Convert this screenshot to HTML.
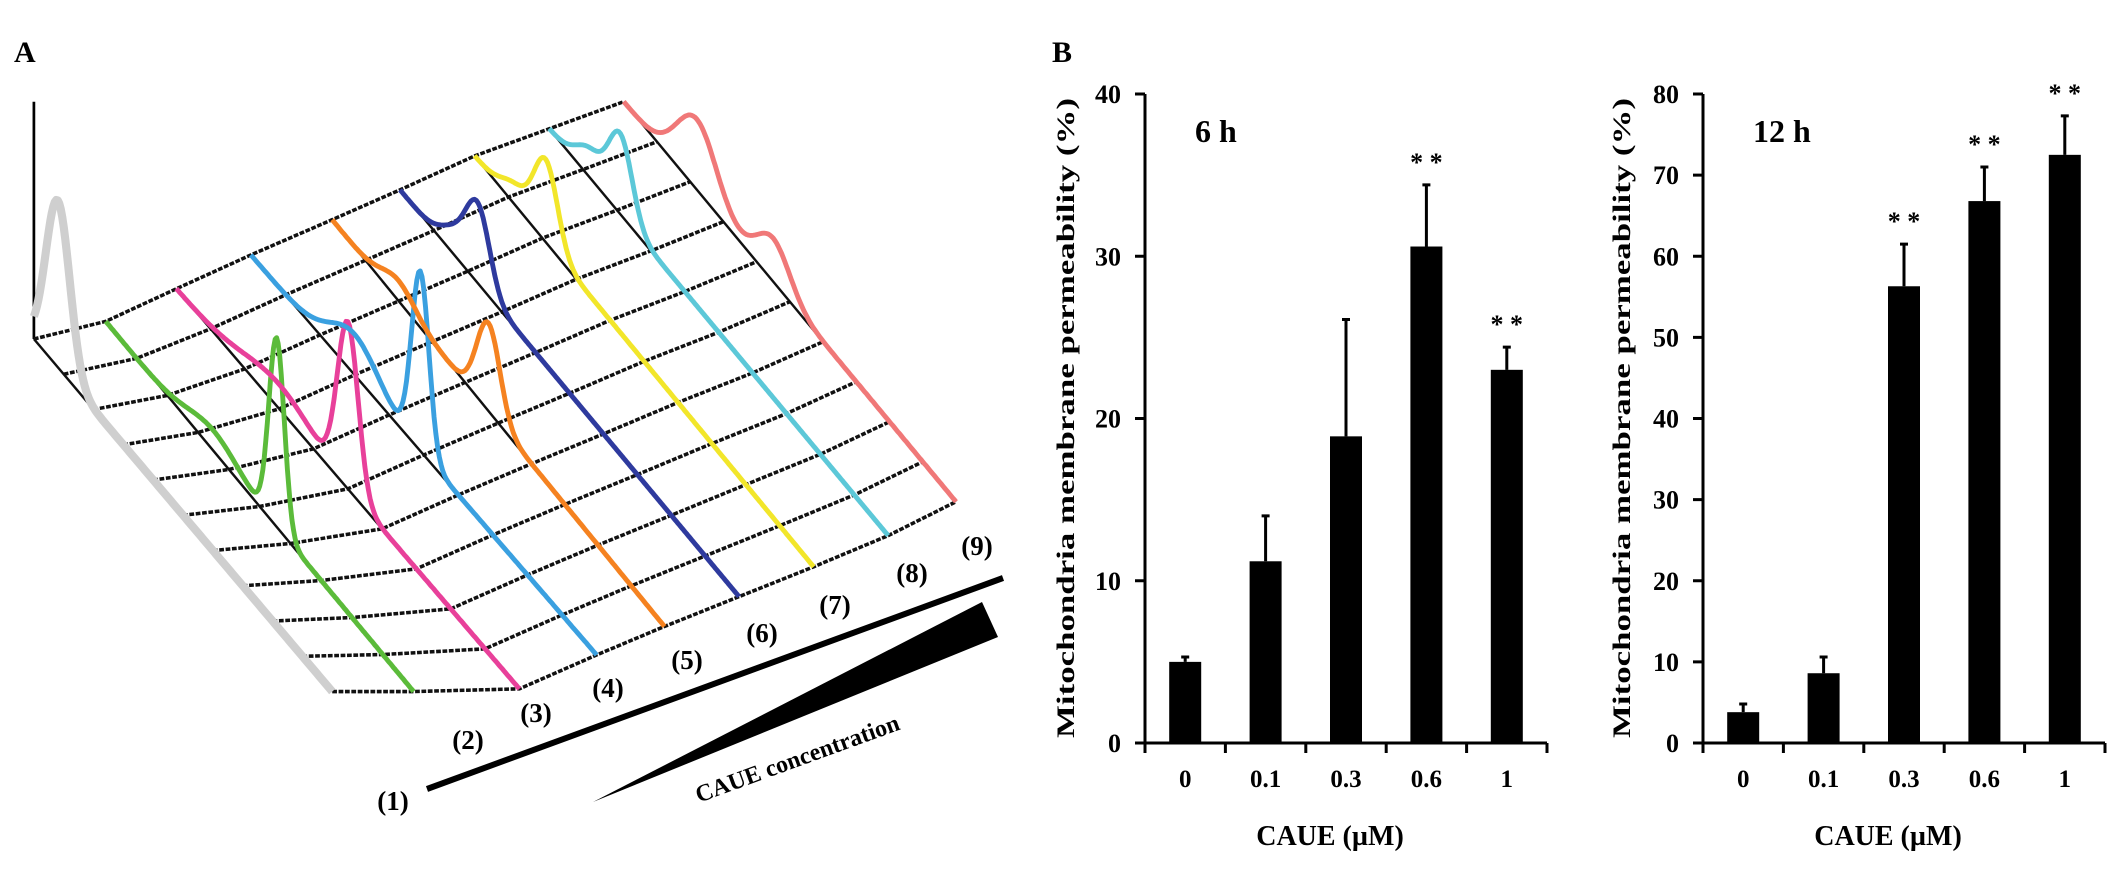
<!DOCTYPE html>
<html><head><meta charset="utf-8"><style>
html,body{margin:0;padding:0;background:#fff;}
svg{display:block;font-family:"Liberation Serif",serif;font-weight:bold;}
</style></head><body>
<svg id="fig" width="2126" height="885" viewBox="0 0 2126 885" xmlns="http://www.w3.org/2000/svg">
<text x="14" y="62" font-size="30">A</text>
<text x="1052" y="62" font-size="30">B</text>
<g id="panelA" transform="scale(1.356)"></g>
<g>
<line x1="427" y1="789" x2="1003" y2="578" stroke="#000" stroke-width="6"/>
<polygon points="593,802 982,602 998,637" fill="#000"/>
<text x="800" y="766" font-size="24" text-anchor="middle" transform="rotate(-20 800 766)">CAUE concentration</text>
</g>
<g id="chart1"></g>
<g id="chart2"></g>
</svg>
<script>
// ---- Panel A data (perceived units, scaled 1.356) ----
const sampleLabels = ["(1)","(2)","(3)","(4)","(5)","(6)","(7)","(8)","(9)"];
const traceColors = ["#cfcfcf","#5bbb3a","#e8409a","#3aa0e0","#f58220","#2e3a9e","#f2e62a","#5cc8d8","#f07878"];
const peakT = [[0.08],[0.555,0.35],[0.5,0.3],[0.49,0.3],[0.47,0.2],[0.23,0.16],[0.21,0.12],[0.21,0.12],[0.22,0.45]];
const peakH = [[123],[139,15],[121,18],[132,30],[65,15],[56,16],[60,14],[58,20],[52,32]];
const peakW = [[0.04],[0.025,0.08],[0.03,0.1],[0.025,0.07],[0.035,0.05],[0.035,0.04],[0.035,0.04],[0.035,0.04],[0.06,0.05]];
// ---- Panel B data ----
const categories = ["0","0.1","0.3","0.6","1"];
const values6h = [5.0,11.2,18.9,30.6,23.0];
const err6h = [0.3,2.8,7.2,3.8,1.4];
const sig6h = [false,false,false,true,true];
const ticks6h = [0,10,20,30,40];
const values12h = [3.8,8.6,56.3,66.8,72.5];
const err12h = [1.0,2.0,5.2,4.2,4.8];
const sig12h = [false,false,true,true,true];
const ticks12h = [0,10,20,30,40,50,60,70,80];

const NS="http://www.w3.org/2000/svg";
function mk(tag,attrs,parent){const e=document.createElementNS(NS,tag);for(const k in attrs)e.setAttribute(k,attrs[k]);parent.appendChild(e);return e;}

const back=[[25,250],[78,237],[130,213],[185,188],[245,162],[295,140],[350,115],[405,95],[460,75]];
const front=[[245,510],[305,510],[383,508],[440,483],[490,462],[545,440],[600,418],[655,395],[705,370]];
const A=document.getElementById('panelA');
function colPt(k,t){return [back[k][0]+(front[k][0]-back[k][0])*t, back[k][1]+(front[k][1]-back[k][1])*t];}
let ax=mk('line',{x1:25,y1:75,x2:25,y2:250,stroke:'#000','stroke-width':2},A);


const rows=10;
for(let r=0;r<=rows;r++){
  const pts=[];for(let k=0;k<9;k++){pts.push(colPt(k,r/rows).join(','));}
  const l=mk('polyline',{points:pts.join(' '),fill:'none',stroke:'#111','stroke-width':2.6,'stroke-dasharray':'3.5 1.2'},A);
  
  
}
for(let k=0;k<9;k++){
  const l=mk('line',{x1:back[k][0],y1:back[k][1],x2:front[k][0],y2:front[k][1],stroke:'#111','stroke-width':1.8},A);
  
  
}
for(let k=0;k<9;k++){
  const pts=[];
  for(let i=0;i<=200;i++){const t=i/200;const p=colPt(k,t);let h=0;
    for(let j=0;j<peakT[k].length;j++){const d=(t-peakT[k][j])/peakW[k][j];h+=peakH[k][j]*Math.exp(-0.5*d*d);}
    pts.push(p[0].toFixed(1)+','+(p[1]-h).toFixed(1));}
  const pl=mk('polyline',{points:pts.join(' '),fill:'none',stroke:traceColors[k],'stroke-width':k===0?6:3.6,'stroke-linejoin':'round'},A);
  
  
}
const labelPos=[[393,810],[468,749],[536,722],[608,697],[687,669],[762,642],[835,614],[912,582],[977,555]];
const svg=document.getElementById('fig');
for(let k=0;k<9;k++){
  const t=mk('text',{x:labelPos[k][0],y:labelPos[k][1],'font-size':27,'text-anchor':'middle'},svg);
  t.textContent=sampleLabels[k];
  
  
}

function barChart(g,ox,vals,errs,sig,ticks,ymax,title,ylabX){
  const y0=743,ytop=94,xend=ox+402,step=80.4;
  const Y=v=>y0-(v/ymax)*(y0-ytop);
  let l=mk('line',{x1:ox,y1:ytop,x2:ox,y2:y0,stroke:'#000','stroke-width':3},g);
  
  
  l=mk('line',{x1:ox-10,y1:y0,x2:xend,y2:y0,stroke:'#000','stroke-width':3},g);
  
  
  ticks.forEach(v=>{
    const tk=mk('line',{x1:ox-10,y1:Y(v),x2:ox,y2:Y(v),stroke:'#000','stroke-width':3},g);
    
    
    const tl=mk('text',{x:ox-24,y:Y(v)+9,'font-size':26,'text-anchor':'end'},g);
    tl.textContent=v;
    
    
  });
  for(let i=0;i<=categories.length;i++){
    const tk=mk('line',{x1:ox+i*step,y1:y0,x2:ox+i*step,y2:y0+10,stroke:'#000','stroke-width':3},g);
    
    
  }
  categories.forEach((c,i)=>{
    const cx=ox+step*(i+0.5);
    const b=mk('rect',{x:cx-16,y:Y(vals[i]),width:32,height:y0-Y(vals[i]),fill:'#000'},g);
    
    
    const et=Y(vals[i]+errs[i]);
    const e=mk('path',{d:`M${cx},${Y(vals[i])}V${et}M${cx-4},${et}H${cx+4}`,stroke:'#000','stroke-width':3,fill:'none'},g);
    
    
    if(sig[i]){
      const s=mk('text',{x:cx,y:et-14,'font-size':26,'text-anchor':'middle'},g);
      s.textContent='* *';
      
      
    }
    const tl=mk('text',{x:cx,y:787,'font-size':25,'text-anchor':'middle'},g);
    tl.textContent=c;
    
    
  });
  let t=mk('text',{x:ox+185,y:845,'font-size':28,'text-anchor':'middle'},g);
  t.textContent='CAUE (\u00B5M)';
  
  
  t=mk('text',{x:ox+50,y:142,'font-size':32},g);
  t.textContent=title;
  
  
  t=mk('text',{x:ylabX,y:418,'font-size':25,'text-anchor':'middle',transform:`rotate(-90 ${ylabX} 418)`,textLength:640,lengthAdjust:'spacingAndGlyphs',dy:9},g);
  t.textContent='Mitochondria membrane permeability (%)';
  
  
}
barChart(document.getElementById('chart1'),1145,values6h,err6h,sig6h,ticks6h,40,'6 h',1065);
barChart(document.getElementById('chart2'),1703,values12h,err12h,sig12h,ticks12h,80,'12 h',1621);
</script>
</body></html>
